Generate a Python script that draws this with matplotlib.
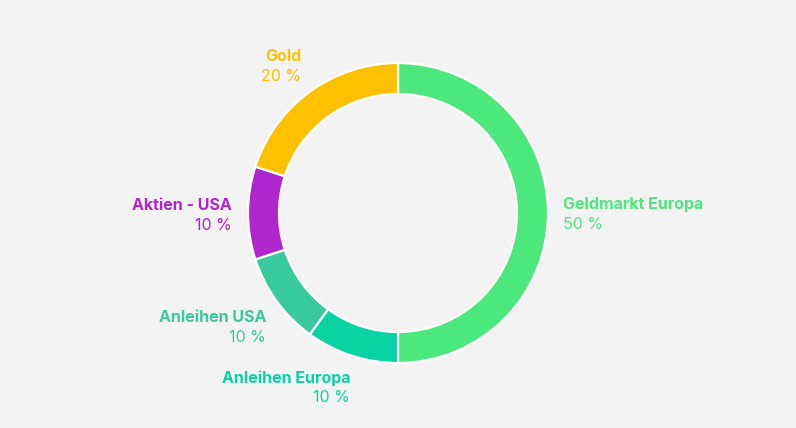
import matplotlib
matplotlib.use("Agg")
import matplotlib.pyplot as plt

categories = ["Geldmarkt Europa", "Anleihen Europa", "Anleihen USA", "Aktien - USA", "Gold"]
values = [50, 10, 10, 10, 20]
pct_labels = ["50 %", "10 %", "10 %", "10 %", "20 %"]
colors = ["#4ce87b", "#09d3a3", "#38c99c", "#b125cf", "#ffc000"]

W, H = 796, 428
fig = plt.figure(figsize=(W / 100, H / 100), dpi=100, facecolor="#f3f3f3")
ax = fig.add_axes([0, 0, 1, 1])
ax.set_facecolor("#f3f3f3")

cx, cy, R, width = 398, 213, 150, 31
ax.pie(values, colors=colors, startangle=-90, counterclock=True, center=(cx, cy),
       radius=R, wedgeprops=dict(width=width, edgecolor="#ffffff", linewidth=1.6),
       frame=True)
ax.set_xlim(0, W)
ax.set_ylim(H, 0)
ax.axis("off")

label_pos = [(563, 204, "left"), (350, 378, "right"), (266, 317, "right"),
             (232, 205, "right"), (301, 56, "right")]
font = "Inter"
for name, pct, col, (x, y, ha) in zip(categories, pct_labels, colors, label_pos):
    ax.text(x, y, name, color=col, fontsize=11.5, fontweight="bold", ha=ha, va="center",
            family=font)
    ax.text(x, y + 20, pct, color=col, fontsize=11.5, ha=ha, va="center", family=font)

fig.savefig("out.png", dpi=100, facecolor=fig.get_facecolor())
